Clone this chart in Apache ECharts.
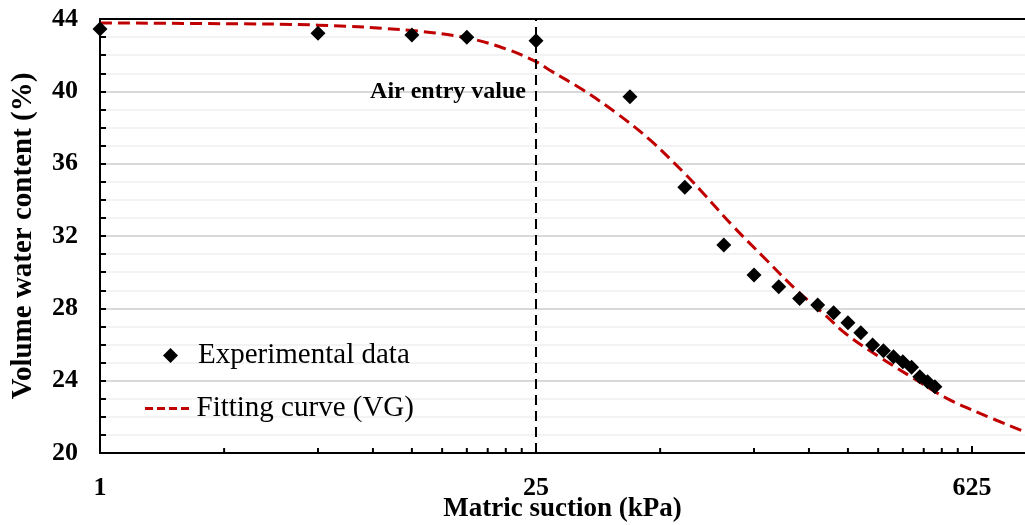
<!DOCTYPE html>
<html><head><meta charset="utf-8">
<script src="https://cdn.jsdelivr.net/npm/echarts@6/dist/echarts.min.js"></script>
<style>html,body{margin:0;padding:0;background:#fff}#c{width:1025px;height:525px}</style>
</head><body><div id="c"></div>
<script>
// Experimental data (matric suction kPa, volumetric water content %)
const suctionExp = [1, 5, 10, 15, 25, 50, 75, 100, 125, 150, 175, 200, 225, 250, 275, 300, 325, 350, 375, 400, 425, 450, 475];
const waterExp   = [43.45, 43.21, 43.12, 42.99, 42.8, 39.7, 34.7, 31.5, 29.85, 29.2, 28.55, 28.18, 27.76, 27.2, 26.65, 25.97, 25.65, 25.32, 25.05, 24.74, 24.22, 23.94, 23.66];
// Fitting curve (VG)
const suctionFit = [1, 2.5, 5, 10, 15, 20, 25, 27.6, 35.4, 45.4, 58, 74, 84, 107, 137, 171, 210, 248, 317, 400, 519, 663, 924];
const waterFit   = [43.78, 43.74, 43.66, 43.36, 42.95, 42.35, 41.64, 41.18, 40.07, 38.78, 37.31, 35.55, 34.55, 32.55, 30.67, 29.01, 27.67, 26.55, 25.29, 24.2, 23.02, 22.19, 21.17];
// Axis ticks
const xMajorTicks = [1, 25, 625];
const xMinorTicks = [2.5, 5, 7.5, 10, 12.5, 15, 17.5, 20, 22.5, 62.5, 125, 187.5, 250, 312.5, 375, 437.5, 500, 562.5];
const xMin = 1, xMax = 924;
const yMin = 20, yMax = 44, yInterval = 4;
// Annotation
const airEntrySuction = 25;
const airEntryLabel = 'Air entry value';
const airEntryLabelY = 40;
const seriesNames = ['Experimental data', 'Fitting curve (VG)'];
const xTitle = 'Matric suction (kPa)';
const yTitle = 'Volume water content (%)';

const FONT = '"Times New Roman", "Liberation Serif", serif';
const DASH_ICON = 'path://M0,0h8v3h-8zM12,0h8v3h-8zM24,0h8v3h-8zM36,0h8v3h-8z';
const chart = echarts.init(document.getElementById('c'));
const expData = suctionExp.map((x, i) => [x, waterExp[i]]);
const fitData = suctionFit.map((x, i) => [x, waterFit[i]]);
const legendText = { fontFamily: FONT, fontSize: 29, color: '#000' };

chart.setOption({
  animation: false,
  backgroundColor: '#fff',
  grid: { left: 100, right: 0, top: 19, bottom: 72, containLabel: false, outerBoundsMode: 'none' },
  legend: [{
    data: [{ name: seriesNames[0], icon: 'diamond' }],
    left: 158, top: 336,
    itemWidth: 15, itemHeight: 15, symbolKeepAspect: true,
    textStyle: Object.assign({ padding: [0, 0, 0, 15] }, legendText)
  }, {
    data: [{ name: seriesNames[1], icon: DASH_ICON }],
    left: 140, top: 389,
    itemWidth: 45, itemHeight: 3,
    textStyle: Object.assign({ padding: [0, 0, 0, 2] }, legendText)
  }],
  xAxis: [{
    type: 'log', logBase: 25, min: xMin, max: xMax,
    name: xTitle, nameLocation: 'middle', nameGap: 43, nameMoveOverlap: false,
    nameTextStyle: { fontFamily: FONT, fontSize: 27, fontWeight: 'bold', color: '#000' },
    axisLine: { show: true, lineStyle: { color: '#000', width: 2 } },
    axisTick: { show: true, inside: true, length: 7, customValues: xMajorTicks, lineStyle: { color: '#000', width: 2 } },
    axisLabel: { customValues: xMajorTicks, margin: 22, fontFamily: FONT, fontSize: 26, fontWeight: 'bold', color: '#000',
      formatter: v => String(Math.round(v)) },
    splitLine: { show: false }
  }, {
    type: 'log', logBase: 25, min: xMin, max: xMax, position: 'top',
    axisLine: { show: true, lineStyle: { color: '#000', width: 2 } },
    axisTick: { show: false }, axisLabel: { show: false }, splitLine: { show: false }
  }],
  yAxis: {
    type: 'value', min: yMin, max: yMax, interval: yInterval,
    name: yTitle, nameLocation: 'middle', nameGap: 62, nameMoveOverlap: false,
    nameTextStyle: { fontFamily: FONT, fontSize: 29, fontWeight: 'bold', color: '#000' },
    axisLine: { show: true, lineStyle: { color: '#000', width: 2 } },
    axisTick: { show: true, inside: true, length: 6, lineStyle: { color: '#000', width: 2 } },
    minorTick: { show: true, splitNumber: 4, length: 6, lineStyle: { color: '#000', width: 2 } },
    axisLabel: { margin: 22, fontFamily: FONT, fontSize: 26, fontWeight: 'bold', color: '#000' },
    splitLine: { show: true, lineStyle: { color: '#d9d9d9', width: 2 } },
    minorSplitLine: { show: true, lineStyle: { color: '#efefef', width: 1.5 } }
  },
  series: [
    {
      name: 'minorTicks', type: 'custom', silent: true, z: 5,
      data: xMinorTicks.map(v => [v, yMin]),
      renderItem: (params, api) => {
        const p = api.coord([api.value(0), api.value(1)]);
        return { type: 'line', shape: { x1: p[0], y1: p[1], x2: p[0], y2: p[1] - 5 },
          style: { stroke: '#000', lineWidth: 2 } };
      },
      clip: false
    },
    {
      name: 'annotation', type: 'scatter', silent: true, z: 3,
      symbolSize: 0,
      itemStyle: { opacity: 1 },
      data: [[airEntrySuction, airEntryLabelY]],
      label: { show: true, position: 'left', distance: 10, formatter: airEntryLabel,
        fontFamily: FONT, fontSize: 24, fontWeight: 'bold', color: '#000', opacity: 1 },
      markLine: {
        silent: true, symbol: ['none', 'none'], animation: false,
        label: { show: false },
        lineStyle: { color: '#000', width: 2, type: [10, 6] },
        data: [{ xAxis: airEntrySuction }]
      }
    },
    {
      name: seriesNames[1], type: 'line', data: fitData, symbol: 'none', smooth: 0.4, z: 4,
      lineStyle: { color: '#c00000', width: 3, type: [12, 6] },
      itemStyle: { color: '#c00000' }
    },
    {
      name: seriesNames[0], type: 'scatter', data: expData, z: 6,
      symbol: 'diamond', symbolSize: 15,
      itemStyle: { color: '#000', opacity: 1 }
    }
  ]
});
</script></body></html>
